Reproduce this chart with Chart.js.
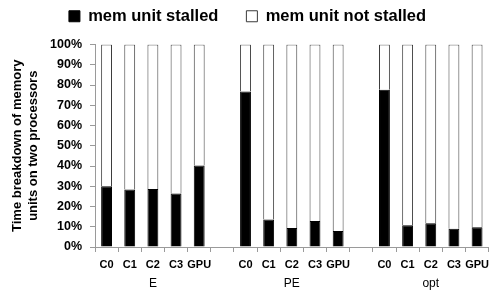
<!DOCTYPE html>
<html>
<head>
<meta charset="utf-8">
<script src="https://cdn.jsdelivr.net/npm/chart.js@4/dist/chart.umd.min.js"></script>
<style>
  html, body { margin: 0; padding: 0; background: #fff; }
  canvas { display: block; }
</style>
</head>
<body>
<canvas id="breakdownChart" width="495" height="292"></canvas>
<script>
"use strict"

// one slot per bar, empty slots keep the gap between the three configurations
const categories = [
    'C0', 'C1', 'C2', 'C3', 'GPU', '',
    'C0', 'C1', 'C2', 'C3', 'GPU', '',
    'C0', 'C1', 'C2', 'C3', 'GPU'
]
const groupLabels = [
    '', '', 'E', '', '', '',
    '', '', 'PE', '', '', '',
    '', '', 'opt', '', ''
]
// percent of time
const stalled = [
    30.0, 28.4, 28.7, 26.4, 40.2, null,
    76.8, 13.6, 9.4, 12.8, 7.9, null,
    77.7, 10.7, 11.7, 9.0, 9.7
]
const notStalled = [
    70.0, 71.6, 71.3, 73.6, 59.8, null,
    23.2, 86.4, 90.6, 87.2, 92.1, null,
    22.3, 89.3, 88.3, 91.0, 90.3
]
const yTitle = ['Time breakdown of memory', 'units on two processors']

const FONT = "'Liberation Sans', Arial, sans-serif"
const AXIS_GREY = '#9a9a9a'

let drawChart = function() {
    let ctx = document.getElementById('breakdownChart').getContext('2d')
    return new Chart(ctx, {
        type: 'bar',
        data: {
            labels: categories,
            datasets: [{
                label: 'mem unit stalled',
                data: stalled,
                backgroundColor: '#000',
                borderColor: '#000',
                borderWidth: 1
            }, {
                label: 'mem unit not stalled',
                data: notStalled,
                backgroundColor: '#fff',
                borderColor: '#3a3a3a',
                borderWidth: 1
            }]
        },
        options: {
            responsive: false,
            animation: false,
            events: [],
            layout: {
                padding: { top: -20, left: 0, right: 0, bottom: 0 }
            },
            datasets: {
                bar: { categoryPercentage: 1, barPercentage: 0.47 }
            },
            plugins: {
                tooltip: { enabled: false },
                legend: {
                    position: 'top',
                    labels: {
                        color: '#000',
                        boxWidth: 11,
                        boxHeight: 11,
                        padding: 28,
                        font: { family: FONT, size: 16.5, weight: 'bold' }
                    }
                },
                // empty subtitle used as a spacer between legend and plot
                subtitle: {
                    display: true,
                    text: '',
                    weight: 500,
                    padding: 0,
                    font: { size: 10, lineHeight: 1 }
                }
            },
            scales: {
                x: {
                    stacked: true,
                    weight: 0,
                    afterFit: s => { s.height = 27 },
                    border: { display: true, color: AXIS_GREY },
                    grid: {
                        offset: true,
                        drawOnChartArea: false,
                        drawTicks: true,
                        tickLength: 5,
                        color: AXIS_GREY
                    },
                    ticks: {
                        color: '#000',
                        autoSkip: false,
                        maxRotation: 0,
                        padding: 6,
                        font: { family: FONT, size: 11, weight: 'bold' }
                    }
                },
                x2: {
                    type: 'category',
                    position: 'bottom',
                    labels: groupLabels,
                    offset: true,
                    weight: 1,
                    afterFit: s => { s.height = 18 },
                    border: { display: false },
                    grid: { display: false, drawTicks: false, tickLength: 0 },
                    ticks: {
                        color: '#000',
                        autoSkip: false,
                        maxRotation: 0,
                        padding: 2,
                        font: { family: FONT, size: 12 }
                    }
                },
                y: {
                    stacked: true,
                    min: 0,
                    max: 100,
                    afterFit: s => { s.width = 95 },
                    border: { display: true, color: AXIS_GREY },
                    grid: {
                        drawOnChartArea: false,
                        drawTicks: true,
                        tickLength: 5,
                        color: AXIS_GREY
                    },
                    ticks: {
                        stepSize: 10,
                        color: '#000',
                        padding: 8,
                        callback: v => v + '%',
                        font: { family: FONT, size: 12.5, weight: 'bold' }
                    },
                    title: {
                        display: true,
                        text: yTitle,
                        color: '#000',
                        padding: { top: 9, bottom: 0 },
                        font: { family: FONT, size: 13, weight: 'bold', lineHeight: 1.23 }
                    }
                }
            }
        }
    })
}

drawChart()
</script>
</body>
</html>
